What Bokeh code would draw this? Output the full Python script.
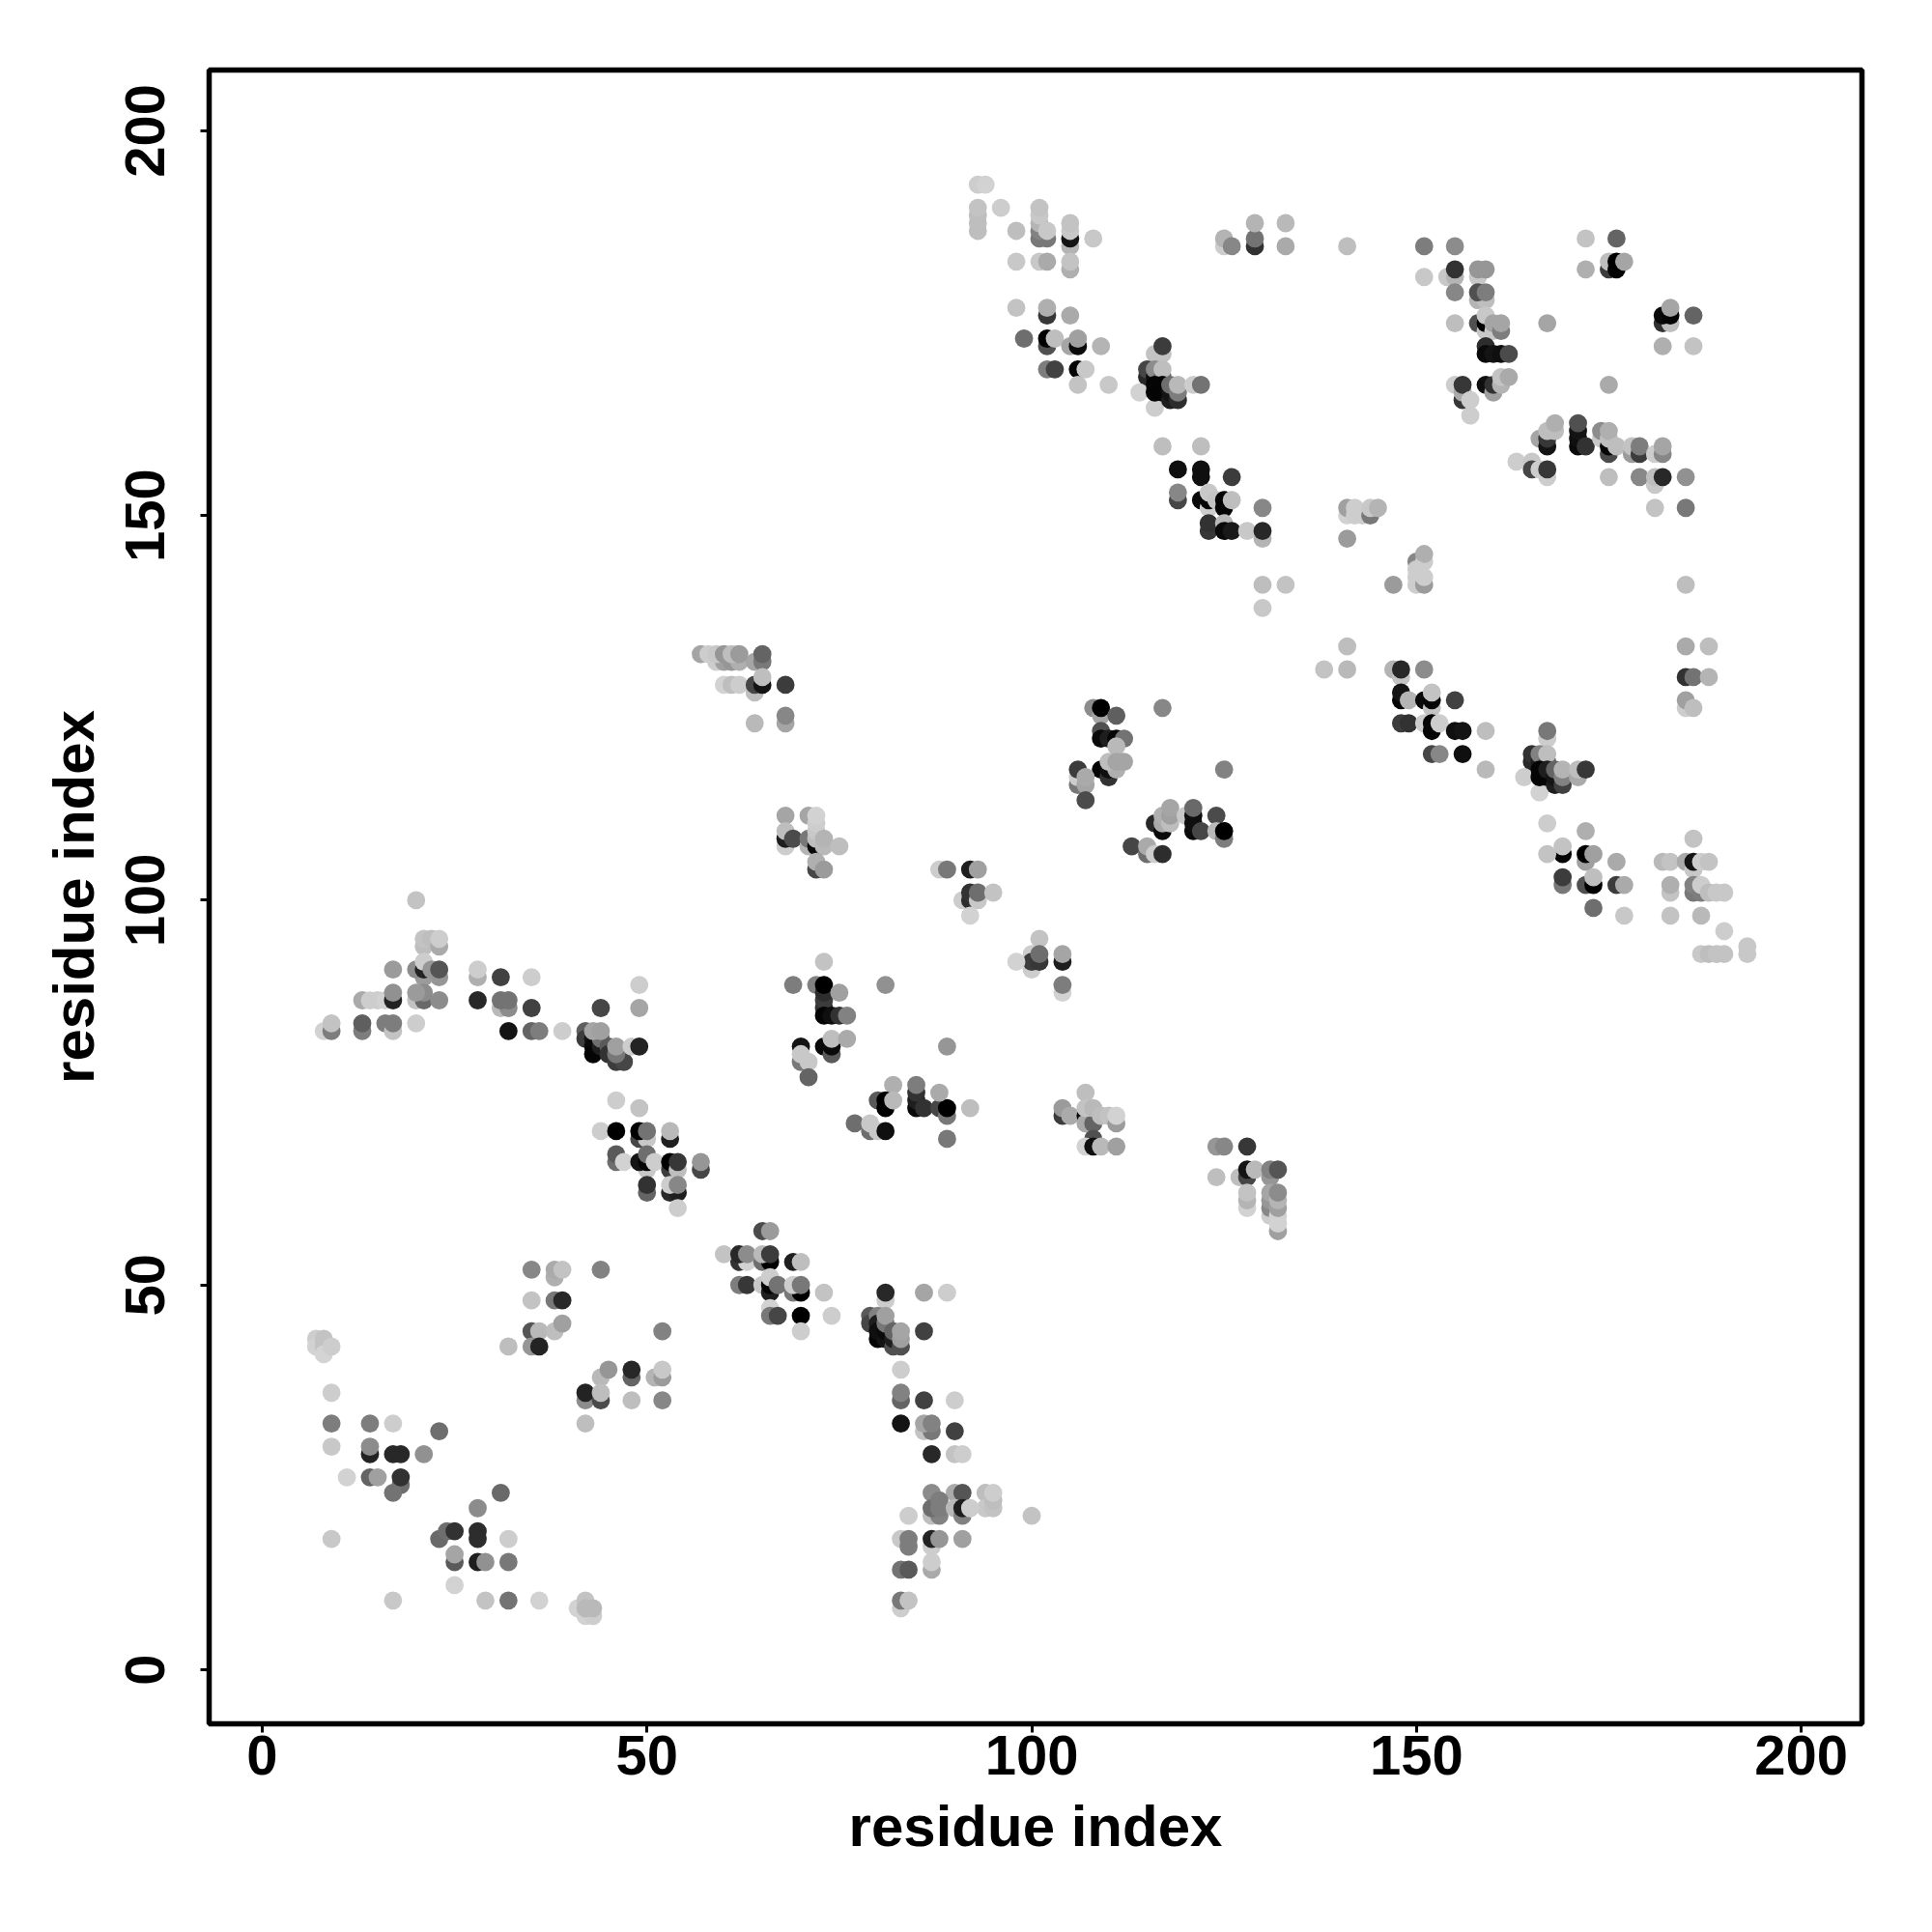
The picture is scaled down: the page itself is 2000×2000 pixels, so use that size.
from bokeh.plotting import figure
from bokeh.models import FixedTicker, Range1d
from bokeh.embed import file_html
from bokeh.resources import INLINE

res_x = [
 7,7,8,8,8,9, 9,9,14,17,23,9,14,14,17,18,21,11,14,15,18,17,18, 9,
 31,28,23,24,25,28,28,32,25,25,28,29,32,25,17,29,32,36, 41,42,42,43,43,42,
 35,38,38,39,44,35,38,39,35,36,38,39,32,35,36,44,45,48,48,51,52,52,42,42,44,44,48,52,42,52,
 20,21,21,22,23,23, 17,23,21,20,21,21,22,23, 28,28,31,35, 20,21,21,20, 13,14,15,16,17,17,23, 28,31,32,31,32,35,44,49,49, 8,9,9,13,13,16,17,17,20, 32,35,36,39,
 42,42,43,43,43,44,44,45,45,46,47,46,46,43,44,48,49,
 46,49, 44,46, 49,50,49,50, 53,53, 50,46,46,47,49,50,50,51, 53,53,54,54,57,57, 50,50,53,54,53,54,54,
 65,66, 62,63,65,66,69,70, 60,62,63,65,66, 62,63,65,66,66,66,67,69,70,69,70,73, 66,66,67,70,74,70,
 81,81,86,89, 79,79,80,80,80,80,81,81,81,81,82,82,82,83,83,83,86, 83,83,83,86,90,83,86,87,86,87,90,87,90,91,
 87,90,91,94,94,95,95,95, 87,88,87,88,88,90,91,91,92, 100,84, 83,84,84,87,87,88,91,87,87,83,84,83,83,84,
 73,69,72,73,73,73,74,75,76,73,73,75,81, 70,73,74,74,74,76,70,70,71,71,89,
 85,85,85,85,82,80,81,81,82,86,88,89,89,88,92,77,79,79,80,81,89,
 107,104,104,105,107,108,107,108,107,108,109,110,111,111,108,107,108,109,111,
 124,125,128,124,127,128,128,129,131,131,132, 128,128,128,131,131,131,131,132,132,132,132,132,132,
 59,60,61,62,64,65, 57,58,59,60,61,62,65, 60,61,62,64,64,65,65,68,64,68,68,
 68,71,68,68,68,69,71,71,72,72,72,72,72,73,73,75,72,72,73,
 88,89,92,93,91,92,92,93,93,95,92,
 101,100,100,100,101,101,98,104,104,104,104,
 108,109,109,111,117,109,109,110,111,112,111, 109,110,110,111,110,111,112,106,106,106,107,107,107,125,
 116,117,117,117,118,118,118,120,121,121,121,121,122,124,124,125,125, 113,115,115,116,117,
 117,122,119,122,122,126,119,119,122,123,123,123,124,125,125,126,130, 123,123,125,125,126,128,130,130,130,133,130,
 141,141,142,142,143,144,144,145,141, 150,151,151,147,150,150,150,151,151,
 141,138,141,147,148,148,151, 148,148,149,151,152,152,152,155, 148,149,151,152,152,153,155,156,159,152,153,156,159,
 167,167,165,165,166,166,167,167,164,166,166,166,167,167,168,168,168,169,169,169,171,171,172,
 167,172,186,169,169,167,172,172,173,176,182,183,185,186,186,187,188, 169,169,172,173,173,176,177,183,183,186,186,187,187,188,189,190,173,177,183,187,190,187,188,189,190,193,193,
 185,185,188,185,186,188,185,185,186,
 93,94,93,93,93,93,96,98,101,102,101,101,101,101,102,105,105,105,105,108, 98,101,102,105,105, 98,102,102,105,99,102,102,103,105,106,106,109, 102,103,106,107,106,110,
 117,116,117,115,115,116,116,117,117,114,116,116,116,117,117,118,118,118,119,119,119,121,122,
 125,125,126,129,129,129,133,133,141,
 151,155,151,154,155,155,158,158,159,155,158,159,158,159,155,158,159,159,159,160,160,161,161,167, 159,159,160,161,162, 155,156,156,156,157,157,159,160,160,161,161,162,
 172,176,172,175,175,176,176,177,182,183,182,183,183,186,182,186,175,
 166,167,167,167,168,168,171,171,171,171,172,174,174,175,175,175,175,176,178,178,179,179,181,182,182, 163,165,165,166,167,167,175,179,181,181,182,185,181,185,
]
res_y = [
 43,42,43,42,41,42, 36,32,32,32,31,29,28,29,28,28,28,25,25,25,24,23,25, 17,
 23,21,17,18,18,18,17,17,14,15,14,14,14,11,9,9,9,9, 8,9,7,7,8,8,
 52,51,52,52,52,48,48,48,44,44,44,45,42,42,42,38,39,38,39,38,38,39,35,36,35,36,35,35,32,44,
 100,94,95,95,94,95, 91,90,90,91,91,92,91,91, 90,91,90,90, 87,87,88,88, 87,87,87,87,87,88,87, 87,86,86,87,87,86,86,86,89, 83,83,84,83,84,84,83,84,84, 83,83,83,83,
 83,82,82,81,80,81,82,81,80,79,79,80,81,83,83,81,81,
 74,73, 70,70, 69,69,70,70, 69,70, 65,66,67,66,66,66,67,66, 65,66,65,66,65,66, 62,63,62,62,63,63,60,
 57,57, 53,53,53,53,53,53, 54,54,54,54,54, 50,50,50,49,50,51,50,49,49,50,50,49, 47,46,46,46,46,44,
 48,49,49,49, 46,45,46,45,43,44,43,44,45,46,42,43,44,42,43,44,44, 39,35,36,35,35,32,31,31,32,32,31,28,28,28,
 23,23,23,23,21,21,22,23, 20,20,21,21,22,21,20,21,21, 20,20, 17,16,17,16,17,17,17,13,14,13,13,8,9,9,
 92,89,89,86,87,85,85,85,85,88,89,88,89, 81,81,80,81,82,82,79,80,79,77,81,
 73,74,75,76,76,74,73,74,74,73,73,72,73,75,73,71,70,71,70,70,69,
 75,72,73,72,72,72,71,71,73,73,72,72,71,72,69,68,68,68,68,
 68,68,68,64,64,64,65,65,64,65,65, 60,61,62,59,60,61,62,57,58,59,60,61,62,
 131,131,131,131,131,131, 132,132,132,132,132,132,132, 128,128,128,127,128,128,129,128,123,123,124,
 111,111,107,108,109,108,107,108,107,108,109,110,111,107,108,107,104,105,104,
 104,104,104,104,100,100,101,100,101,101,98,
 95,93,91,92,92,93,92,92,93,88,89,
 125,124,125,124,125,122,121,121,121,121,120, 117,116,117,117,118,118,118,115,116,117,115,116,113,117,
 110,109,110,111,110,111,112,111,109,110,111,112,109,111,109,108,109, 107,106,107,106,106,
 159,159,156,155,156,155,152,153,152,151,152,153,152,151,152,152,151, 148,149,149,148,148,148,147,148,141,141,138,
 150,151,150,151,150,150,151,151,147, 144,144,145,141,141,142,143,141,142,
 133,130,130,130,129,130,130, 126,127,126,126,125,126,127,126, 123,123,123,122,123,123,122,122,122,119,119,119,117,
 121,122,118,119,118,119,118,119,116,114,116,117,116,117,115,116,117,115,116,117,116,117,117,
 110,109,108,106,107,106,105,106,106,105,105,105,105,104,105,105,105, 102,103,102,102,103,102,102,101,102,101,102,101,102,101,101,101,99,98,98,98,96,93,93,93,93,93,94,
 141,133,133,129,129,129,125,126,125,
 193,193,187,188,189,190,190,187,186,186,187,188,189,190,187,185,186,187,188,186, 183,183,183,182,183, 177,176,177,176,173,172,173,173,172,172,173,172, 169,169,169,169,167,167,
 171,171,172,168,169,168,169,168,169,166,164,166,167,166,167,165,166,167,165,166,167,167,167,
 185,186,185,185,186,188,188,185,185,
 185,185,181,181,181,182,181,182,182,179,178,178,179,179,175,175,174,175,176,174,175,174,175,175, 172,171,171,171,171, 167,165,166,167,165,163,167,166,167,167,168,168,
 186,186,182,182,183,182,183,183,175,175,176,176,177,176,172,172,167,
 160,159,160,161,161,162,159,160,161,162,159,160,161,158,159,160,161,159,158,159,158,159,158,158,159, 157,157,156,156,155,156,155,155,154,155,155,155,151,151,
]
shade = [
 205,210,195,195,212,205, 205,125,125,205,110,200,35,140,40,40,145,210,100,160,110,115,50, 200,
 105,140,105,110,50,45,45,205,90,165,30,145,120,210,200,195,115,210, 210,195,210,205,185,185,
 135,175,170,195,130,195,120,40,85,185,190,160,190,150,35,185,150,100,40,180,155,200,140,35,75,190,190,135,190,130,
 195,190,195,190,170,205, 155,150,155,140,35,205,150,85, 175,205,65,205, 195,105,140,155, 170,205,205,210,35,145,140, 40,185,140,115,115,65,70,165,205, 210,125,195,125,95,125,195,125,205, 20,100,125,205,
 95,60,20,10,5,30,110,90,50,60,70,120,160,165,160,205,35,
 205,195, 205,0, 70,200,0,115, 30,185, 200,110,90,210,20,5,110,205, 60,0,190,55,70,150, 100,50,40,30,205,135,205,
 75,155, 50,210,110,0,30,190, 195,40,140,185,60, 125,55,200,30,5,205,115,120,0,205,120,195, 210,120,70,0,205,205,
 205,40,165,205, 90,70,130,30,5,15,20,10,120,160,80,30,100,80,160,165,65, 205,100,130,65,205,20,195,120,165,130,65,40,195,205,
 140,170,85,190,200,195,190,205, 190,130,110,125,125,185,130,30,205, 195,205, 200,125,125,205,35,150,160,170,205,115,90,205,120,195,
 195,125,130,50,60,5,15,50,130,45,0,160,145, 20,10,90,10,190,170,120,200,200,100,150,
 10,30,50,125,175,90,0,0,185,50,70,120,0,170,190,110,110,200,200,15,120,
 190,60,155,170,10,5,170,100,195,185,190,195,155,210,80,210,15,185,160,
 150,135,55,190,190,70,20,185,150,130,85, 210,180,195,205,135,150,165,160,210,210,160,180,140,
 205,160,150,175,165,120, 165,205,200,150,190,155,100, 210,190,205,190,70,20,190,60,185,165,135,
 165,165,205,30,190,75,180,120,10,190,200,205,210,185,180,190,70,175,155,
 205,120,30,160,205,45,50,200,110,195,210,
 195,205,205,60,55,110,210,30,165,210,125,
 140,165,0,95,135,80,10,30,5,115,185, 5,50,15,175,190,165,165,120,205,60,165,170,75,130,
 40,10,170,175,190,160,165,200,10,15,15,105,70,75,185,125,0, 70,110,170,205,45,
 190,190,15,15,15,60,70,135,10,205,5,200,195,5,5,190,135, 55,50,185,10,25,200,180,40,190,195,200,
 210,160,205,205,205,120,200,180,155, 135,205,175,155,205,205,205,155,205,
 190,195,185,180,195,40,140, 5,20,180,10,195,5,195,65, 60,50,205,5,5,205,15,20,190,70,135,15,185,
 205,120,40,50,30,130,100,190,205,210,5,5,5,30,30,20,100,65,130,180,170,190,55,
 205,175,195,5,195,195,160,0,160,170,185,195,170,200,20,205,195, 120,60,80,0,190,60,170,195,175,120,130,125,205,190,200,200,110,200,195,185,205,200,190,195,195,200,200,
 190,170,190,50,115,180,205,160,190,
 205,210,190,190,190,195,205,190,120,120,130,180,200,195,200,180,20,200,195,200, 200,200,170,175,195, 195,55,175,170,110,80,0,190,165,10,160,180, 125,65,5,200,195,200,
 195,195,60,40,70,15,140,100,190,210,205,5,5,5,5,30,20,110,45,125,185,205,115,
 205,180,135,50,115,180,185,170,190,
 125,140,200,200,180,50,200,150,150,135,180,190,80,125,190,80,200,0,200,200,165,125,165,165, 45,10,20,15,75, 205,55,170,55,205,205,15,160,50,180,195,170,
 195,100,175,60,190,5,0,165,50,190,10,5,165,100,175,195,170,
 165,20,55,190,190,175,10,15,20,80,50,200,140,75,5,190,175,190,155,195,60,125,205,135,165, 205,200,70,205,205,55,190,135,200,190,40,145,195,120,
]
tick_values = [0, 50, 100, 150, 200]
axis_title = "residue index"

assert len(res_x) == len(res_y) == len(shade), (len(res_x), len(res_y), len(shade))
colors = ["#%02x%02x%02x" % (g, g, g) for g in shade]

p = figure(width=1984, height=1984, frame_width=1711, frame_height=1712,
           x_range=Range1d(-6.9, 207.9), y_range=Range1d(-7.03, 207.9),
           output_backend="svg", toolbar_location=None,
           min_border_left=216, min_border_top=72, min_border_right=57, min_border_bottom=200)
p.grid.visible = False
p.background_fill_color = "white"
p.border_fill_color = "white"
p.outline_line_color = "black"
p.outline_line_width = 5.5
p.outline_line_alpha = 1

p.scatter(res_x, res_y, size=18.8, color=colors, line_color=None, marker="circle")

for ax in (p.xaxis[0], p.yaxis[0]):
    ax.ticker = FixedTicker(ticks=tick_values)
    ax.axis_label = axis_title
    ax.axis_line_color = None
    ax.major_tick_line_color = "black"
    ax.major_tick_line_width = 3
    ax.major_tick_in = 0
    ax.major_tick_out = 9
    ax.minor_tick_line_color = None
    ax.major_label_text_font = "Liberation Sans"
    ax.major_label_text_font_style = "bold"
    ax.major_label_text_font_size = "58px"
    ax.major_label_text_color = "black"
    ax.axis_label_text_font = "Liberation Sans"
    ax.axis_label_text_font_style = "bold"
    ax.axis_label_text_font_size = "60px"
    ax.axis_label_text_color = "black"
p.yaxis[0].major_label_orientation = "vertical"
p.xaxis[0].major_label_standoff = 3
p.yaxis[0].major_label_standoff = 37
p.xaxis[0].axis_label_standoff = 17
p.yaxis[0].axis_label_standoff = 18

open("out.html", "w").write(file_html(p, INLINE))
